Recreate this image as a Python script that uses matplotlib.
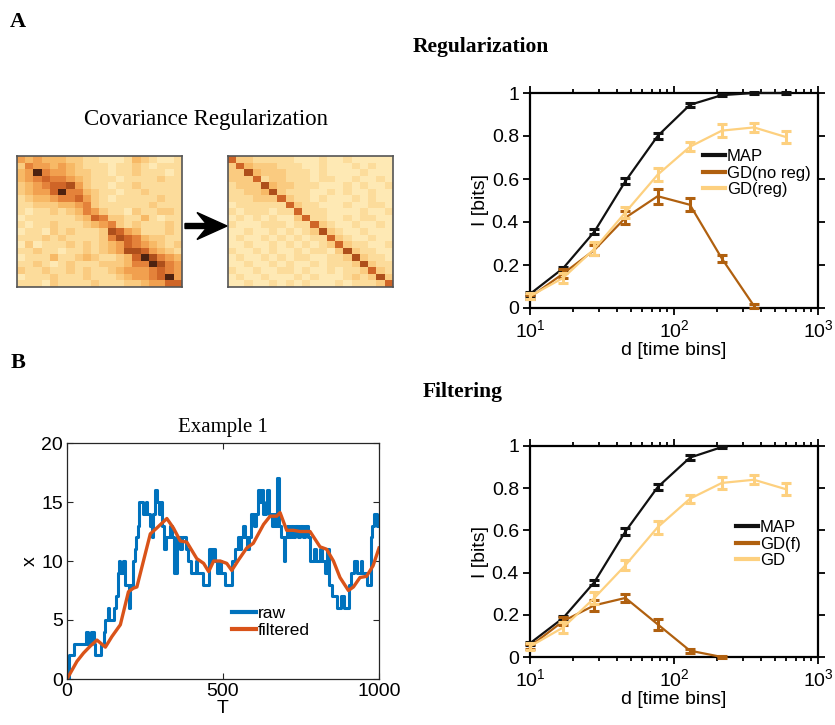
import numpy as np
import matplotlib
matplotlib.use("Agg")
import matplotlib.pyplot as plt
from matplotlib import font_manager
from matplotlib.colors import LinearSegmentedColormap
from matplotlib.patches import FancyArrow
from matplotlib.lines import Line2D
from matplotlib.ticker import FuncFormatter, LogLocator, NullFormatter

# ---------------------------------------------------------------- data
# covariance matrices (intensity levels 0..9), before / after regularization
cov_raw = [
    "54544433221112432112",
    "36554543222122321222",
    "45965543322122322212",
    "45676654322212222322",
    "34567785322122322222",
    "34557966432212232222",
    "23445667532122222322",
    "22333445632222223222",
    "21223234653221322332",
    "12222223476332242122",
    "21223222345632322232",
    "12213232223875422232",
    "22232322223687643322",
    "13122232323457654323",
    "22322122323458875432",
    "12224223432234798654",
    "22321232223334669865",
    "32232232322345556765",
    "12223222322234556795",
    "22213222232223345577",
]
cov_reg = [
    "73322222111211211111",
    "37433322211211121211",
    "33843332221211112111",
    "33372332221221121121",
    "23338433222111212112",
    "22334832221121211211",
    "22233373221211121211",
    "12222227322111211221",
    "21222122722211112112",
    "12121211372211212211",
    "21112221227321121121",
    "11211212123832112111",
    "12112121212273211211",
    "11211212121237322112",
    "21121211212213832211",
    "12112121221122383221",
    "11211212112122238322",
    "21121122121121223732",
    "12112111212111232383",
    "11211212121112122237",
]

# information curves
d_bins = [10, 17, 28, 46, 77, 129, 215, 359, 600]

reg_map = [0.065, 0.185, 0.355, 0.59, 0.80, 0.945, 0.99, 1.0, 1.0]
reg_map_err = [0.008, 0.008, 0.012, 0.015, 0.013, 0.01, 0.006, 0.004, 0.004]
reg_noreg = [0.05, 0.16, 0.27, 0.42, 0.52, 0.48, 0.23, 0.01]
reg_noreg_err = [0.01, 0.02, 0.025, 0.03, 0.035, 0.03, 0.018, 0.008]
reg_reg = [0.055, 0.14, 0.275, 0.445, 0.62, 0.75, 0.825, 0.84, 0.795]
reg_reg_err = [0.015, 0.025, 0.03, 0.025, 0.03, 0.02, 0.03, 0.022, 0.028]

filt_map = [0.065, 0.185, 0.355, 0.595, 0.805, 0.945, 0.995]
filt_map_err = [0.008, 0.01, 0.012, 0.016, 0.014, 0.01, 0.006]
filt_f = [0.05, 0.17, 0.245, 0.28, 0.155, 0.03, 0.0]
filt_f_err = [0.01, 0.02, 0.025, 0.02, 0.025, 0.01, 0.005]
filt_gd = [0.05, 0.14, 0.28, 0.435, 0.615, 0.75, 0.825, 0.84, 0.795]
filt_gd_err = [0.015, 0.025, 0.03, 0.025, 0.03, 0.02, 0.03, 0.022, 0.028]

# example trace: raw (step changes) and filtered
raw_T = [0, 6, 22, 60, 66, 76, 86, 89, 110, 118, 122, 130, 136, 150, 158, 163,
         166, 171, 180, 185, 198, 202, 212, 217, 221, 226, 232, 244, 252, 258,
         266, 272, 277, 282, 290, 295, 300, 305, 311, 318, 330, 338, 344, 352,
         362, 368, 383, 389, 399, 412, 418, 437, 454, 462, 466, 474, 480, 486,
         492, 506, 530, 540, 547, 554, 558, 564, 570, 576, 584, 591, 600, 605,
         612, 620, 625, 629, 638, 642, 648, 656, 662, 666, 674, 679, 686, 694,
         700, 706, 712, 718, 724, 732, 740, 748, 756, 764, 772, 780, 792, 798,
         812, 818, 828, 834, 839, 850, 866, 877, 888, 904, 910, 920, 931, 941,
         947, 963, 973, 978, 984, 995, 1000]
raw_x = [0, 2, 3, 4, 3, 4, 3, 2, 3, 4, 5, 6, 5, 6, 7, 9,
         10, 9, 10, 8, 6, 8, 10, 11, 12, 13, 15, 14, 15, 14,
         13, 12, 14, 16, 15, 14, 15, 13, 11, 12, 13, 12, 9, 12,
         11, 12, 11, 10, 9, 10, 9, 8, 11, 10, 11, 10, 9, 10,
         9, 8, 10, 11, 12, 11, 12, 13, 12, 11, 12, 14, 13, 14,
         16, 15, 16, 14, 15, 16, 14, 13, 14, 13, 17, 13, 12, 10,
         12, 13, 12, 13, 12, 13, 12, 13, 12, 13, 12, 10, 11, 10,
         11, 10, 9, 11, 8, 7, 6, 7, 6, 8, 9, 10, 9, 10,
         9, 8, 12, 13, 14, 13, 13]
filt_T = [0, 32, 53, 75, 96, 123, 144, 171, 197, 213, 224, 245, 267, 288, 320,
          341, 363, 384, 416, 438, 454, 470, 491, 512, 528, 550, 576, 597, 630,
          651, 672, 683, 704, 726, 747, 779, 811, 832, 854, 875, 902, 918, 939,
          960, 981, 1000]
filt_x = [0, 1.5, 2.2, 2.8, 3.3, 2.7, 3.6, 4.6, 7.4, 7.7, 7.8, 10.0, 12.3, 12.8,
          13.6, 12.8, 11.7, 11.6, 10.2, 9.8, 9.1, 10.0, 10.0, 9.8, 9.2, 10.1,
          11.1, 11.5, 13.1, 13.8, 13.8, 14.1, 12.6, 12.6, 12.5, 12.5, 11.2, 11.0,
          10.0, 8.6, 7.5, 7.8, 8.6, 8.7, 9.6, 11.1]

y_ticks = [0, 0.2, 0.4, 0.6, 0.8, 1.0]

# ---------------------------------------------------------------- style
SANS = "Liberation Sans"
SERIF = "Liberation Serif"
plt.rcParams["font.family"] = [SANS, "DejaVu Sans"]
plt.rcParams["mathtext.fontset"] = "custom"
plt.rcParams["mathtext.rm"] = SANS

C_MAP = "#111111"
C_DARK = "#B0600F"
C_LIGHT = "#FDD07F"
C_RAW = "#0072BD"
C_FILT = "#D95319"

heat_cmap = LinearSegmentedColormap.from_list(
    "cov", ["#FFF4CC", "#FEE9B4", "#FCDC9B", "#FACB80", "#F7B966",
            "#F2A150", "#E4823A", "#D06628", "#B0501C", "#4E2210"])

W, H = 835, 725
fig = plt.figure(figsize=(W / 100, H / 100), dpi=100)


def px_axes(left, top, right, bottom):
    return fig.add_axes([left / W, 1 - bottom / H, (right - left) / W, (bottom - top) / H])


def ftext(x, y, s, **kw):
    fig.text(x / W, 1 - y / H, s, **kw)


# ---------------------------------------------------------------- panel A
ftext(18, 22, "A", family=SERIF, weight="bold", fontsize=16, ha="center", va="center")
ftext(481, 47, "Regularization", family=SERIF, weight="bold", fontsize=15.5,
      ha="center", va="center")
ftext(206, 120, "Covariance Regularization", family=SERIF, fontsize=16.5,
      ha="center", va="center")

for mat, (l, r) in ((cov_raw, (17, 182)), (cov_reg, (228, 393))):
    M = np.array([[int(c) for c in row] for row in mat])
    ax = px_axes(l, 156, r, 287)
    ax.imshow(M, cmap=heat_cmap, vmin=0, vmax=9, aspect="auto", interpolation="nearest")
    ax.set_xticks([])
    ax.set_yticks([])
    for s in ax.spines.values():
        s.set_color("#555555")
        s.set_linewidth(1.2)

fig.patches.append(FancyArrow(1.85, (H - 226) / 100, 0.42, 0, width=0.05,
                              head_width=0.27, head_length=0.30, overhang=0.3,
                              length_includes_head=True, color="black",
                              transform=fig.dpi_scale_trans, figure=fig))


def info_axes(top, bottom):
    ax = px_axes(530, top, 818, bottom)
    ax.set_xscale("log")
    ax.set_xlim(10, 1000)
    ax.set_ylim(0, 1)
    ax.set_yticks(y_ticks)
    ax.yaxis.set_major_formatter(FuncFormatter(lambda v, p: f"{v:g}"))
    ax.xaxis.set_major_locator(LogLocator(base=10, numticks=5))
    ax.xaxis.set_minor_locator(LogLocator(base=10, subs=np.arange(2, 10), numticks=10))
    ax.xaxis.set_minor_formatter(NullFormatter())
    ax.tick_params(which="both", direction="out", top=True, right=True,
                   labelsize=14, width=1.3, pad=3)
    ax.tick_params(which="major", length=5)
    ax.tick_params(which="minor", length=3)
    for s in ax.spines.values():
        s.set_linewidth(1.6)
    ax.set_xlabel("d [time bins]", fontsize=14, labelpad=1)
    ax.set_ylabel("I [bits]", fontsize=14, labelpad=2)
    return ax


def curve(ax, y, err, color):
    d = d_bins[:len(y)]
    ax.plot(d, y, color=color, lw=1.6, clip_on=False, zorder=3)
    ax.errorbar(d, y, yerr=err, fmt="none", ecolor=color, elinewidth=2.2,
                capsize=3.5, capthick=2.2, clip_on=False, zorder=3)


def legend(ax, labels, colors, x, y):
    handles = [Line2D([], [], color=c, lw=3) for c in colors]
    ax.legend(handles, labels, loc="upper left", bbox_to_anchor=(x, y),
              frameon=False, fontsize=12, handlelength=1.35, handletextpad=0.1,
              labelspacing=0.1, borderpad=0, borderaxespad=0)


ax = info_axes(93, 308)
curve(ax, reg_map, reg_map_err, C_MAP)
curve(ax, reg_noreg, reg_noreg_err, C_DARK)
curve(ax, reg_reg, reg_reg_err, C_LIGHT)
legend(ax, ["MAP", "GD(no reg)", "GD(reg)"], [C_MAP, C_DARK, C_LIGHT], 0.6, 0.74)

# ---------------------------------------------------------------- panel B
ftext(18, 363, "B", family=SERIF, weight="bold", fontsize=16, ha="center", va="center")
ftext(463, 392, "Filtering", family=SERIF, weight="bold", fontsize=15.5,
      ha="center", va="center")

ax = info_axes(446, 657)
curve(ax, filt_map, filt_map_err, C_MAP)
curve(ax, filt_f, filt_f_err, C_DARK)
curve(ax, filt_gd, filt_gd_err, C_LIGHT)
legend(ax, ["MAP", "GD(f)", "GD"], [C_MAP, C_DARK, C_LIGHT], 0.715, 0.65)

ax = px_axes(67, 443, 379, 679)
ax.step(raw_T, raw_x, where="post", color=C_RAW, lw=2.2)
ax.plot(filt_T, filt_x, color=C_FILT, lw=2.4)
ax.set_xlim(0, 1000)
ax.set_ylim(0, 20)
ax.set_xticks([0, 500, 1000])
ax.set_yticks([0, 5, 10, 15, 20])
ax.tick_params(direction="in", top=True, right=True, labelsize=14, length=4,
               width=0.8, pad=3, colors="#262626", labelcolor="black")
for s in ax.spines.values():
    s.set_linewidth(0.9)
    s.set_color("#262626")
ax.set_xlabel("T", fontsize=14, labelpad=0)
ax.set_ylabel("x", fontsize=14, labelpad=2)
ax.set_title("Example 1", family=SERIF, fontsize=15, pad=8)
handles = [Line2D([], [], color=c, lw=3) for c in (C_RAW, C_FILT)]
ax.legend(handles, ["raw", "filtered"], loc="upper left", bbox_to_anchor=(0.53, 0.31),
          frameon=False, fontsize=12.5, handlelength=1.35, handletextpad=0.1,
          labelspacing=0.1, borderpad=0, borderaxespad=0)

fig.savefig("out.png", dpi=100)
